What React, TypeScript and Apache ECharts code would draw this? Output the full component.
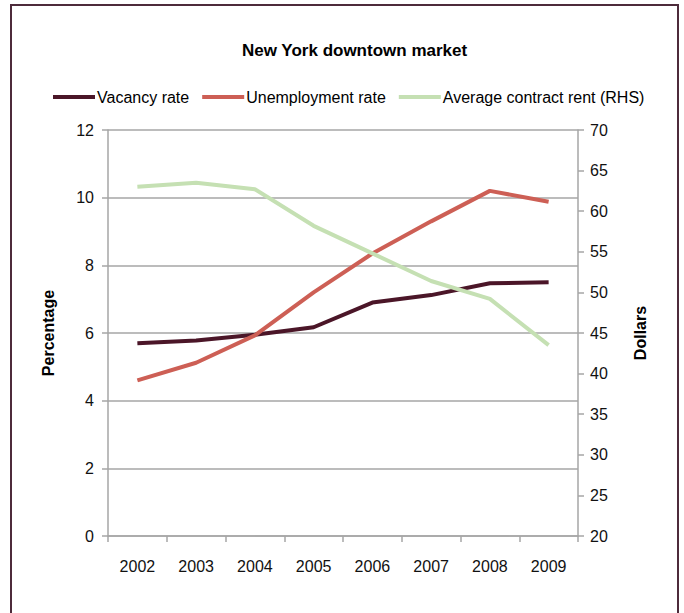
import React, { useEffect, useRef } from "react";
import * as echarts from "echarts";

const years = ["2002", "2003", "2004", "2005", "2006", "2007", "2008", "2009"];
const vacancyRate = [5.7, 5.78, 5.95, 6.17, 6.9, 7.12, 7.47, 7.5];
const unemploymentRate = [4.6, 5.12, 5.93, 7.2, 8.35, 9.3, 10.2, 9.88];
const averageRent = [63.0, 63.5, 62.7, 58.2, 54.8, 51.4, 49.2, 43.5];

const FONT = "'Liberation Sans Narrow', 'Arial Narrow', 'Liberation Sans', Arial, sans-serif";

export default function App() {
  const ref = useRef<HTMLDivElement>(null);
  useEffect(() => {
    if (!ref.current) return;
    const chart = echarts.init(ref.current, undefined, { renderer: "svg" });
    const gridColor = "#a6a6a6";
    chart.setOption({
      animation: false,
      backgroundColor: "#ffffff",
      textStyle: { fontFamily: FONT },
      title: {
        text: "New York downtown market",
        left: 237,
        top: 37,
        textStyle: { fontFamily: FONT, fontSize: 17, fontWeight: "bold", color: "#000" },
      },
      legend: {
        top: 84,
        left: 48,
        itemWidth: 42,
        itemHeight: 4,
        itemGap: 13,
        icon: "rect",
        textStyle: { fontFamily: FONT, fontSize: 16, color: "#000", padding: [0, 0, 0, -3] },
        data: ["Vacancy rate", "Unemployment rate", "Average contract rent (RHS)"],
      },
      graphic: [
        {
          type: "rect",
          shape: { x: 11, y: 5, width: 667, height: 660 },
          style: { fill: "none", stroke: "#4d2b3b", lineWidth: 2 },
          silent: true,
        },
      ],
      grid: { left: 108, right: 106, top: 130, bottom: 77, containLabel: false },
      xAxis: {
        type: "category",
        data: years,
        boundaryGap: true,
        axisLine: { show: true, lineStyle: { color: gridColor, width: 1.5 } },
        axisTick: { show: true, length: 6, lineStyle: { color: gridColor, width: 1.5 } },
        axisLabel: { margin: 22, fontSize: 16, color: "#111", fontFamily: FONT },
      },
      yAxis: [
        {
          type: "value",
          min: 0,
          max: 12,
          interval: 2,
          name: "Percentage",
          nameLocation: "middle",
          nameGap: 52,
          nameTextStyle: { fontSize: 16, fontWeight: "bold", color: "#000", fontFamily: FONT },
          axisLine: { show: true, lineStyle: { color: gridColor, width: 1.5 } },
          axisTick: { show: true, length: 6, lineStyle: { color: gridColor, width: 1.5 } },
          axisLabel: { margin: 14, fontSize: 16, color: "#111", fontFamily: FONT },
          splitLine: { show: true, lineStyle: { color: gridColor, width: 1.5 } },
        },
        {
          type: "value",
          min: 20,
          max: 70,
          interval: 5,
          name: "Dollars",
          nameLocation: "middle",
          nameGap: 54,
          nameRotate: 90,
          nameTextStyle: { fontSize: 16, fontWeight: "bold", color: "#000", fontFamily: FONT },
          axisLine: { show: true, lineStyle: { color: gridColor, width: 1.5 } },
          axisTick: { show: true, length: 6, lineStyle: { color: gridColor, width: 1.5 } },
          axisLabel: { margin: 12, fontSize: 16, color: "#111", fontFamily: FONT },
          splitLine: { show: false },
        },
      ],
      series: [
        {
          name: "Vacancy rate",
          type: "line",
          data: vacancyRate,
          yAxisIndex: 0,
          showSymbol: false,
          symbol: "none",
          lineStyle: { color: "#4b1628", width: 4 },
          itemStyle: { color: "#4b1628" },
        },
        {
          name: "Unemployment rate",
          type: "line",
          data: unemploymentRate,
          yAxisIndex: 0,
          showSymbol: false,
          symbol: "none",
          lineStyle: { color: "#cd5f55", width: 4 },
          itemStyle: { color: "#cd5f55" },
        },
        {
          name: "Average contract rent (RHS)",
          type: "line",
          data: averageRent,
          yAxisIndex: 1,
          showSymbol: false,
          symbol: "none",
          lineStyle: { color: "#c5e0b3", width: 4 },
          itemStyle: { color: "#c5e0b3" },
        },
      ],
    });
    return () => chart.dispose();
  }, []);
  return (
    <div
      ref={ref}
      style={{ position: "fixed", left: 0, top: 0, width: 684, height: 613 }}
    />
  );
}
